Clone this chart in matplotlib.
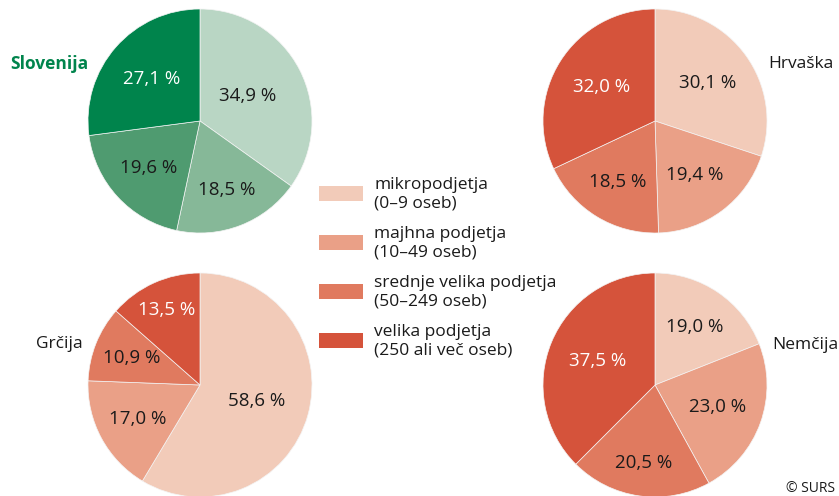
import matplotlib
matplotlib.use('Agg')
import numpy as np
import matplotlib.pyplot as plt
from matplotlib.patches import Rectangle

plt.rcParams['font.family'] = ['Open Sans', 'DejaVu Sans']

# share of enterprises by size class, clockwise from 12 o'clock
size_classes = ['mikropodjetja\n(0–9 oseb)',
                'majhna podjetja\n(10–49 oseb)',
                'srednje velika podjetja\n(50–249 oseb)',
                'velika podjetja\n(250 ali več oseb)']
countries = ['Slovenija', 'Hrvaška', 'Grčija', 'Nemčija']
slovenija = [34.9, 18.5, 19.6, 27.1]
hrvaska = [30.1, 19.4, 18.5, 32.0]
grcija = [58.6, 17.0, 10.9, 13.5]
nemcija = [19.0, 23.0, 20.5, 37.5]

GREENS = ['#b9d6c4', '#86b898', '#4f9b70', '#00844c']
REDS = ['#f2cbb9', '#eaa087', '#e07a5f', '#d5533b']

W, H = 839, 496
fig = plt.figure(figsize=(W / 100, H / 100), dpi=100)
ax = fig.add_axes([0, 0, 1, 1])

R = 112
pies = [
    (slovenija, GREENS, (200, 121), [0.48, 0.66, 0.62, 0.57]),
    (hrvaska, REDS, (655, 121), [0.58, 0.60, 0.64, 0.56]),
    (grcija, REDS, (200, 385), [0.52, 0.63, 0.66, 0.73]),
    (nemcija, REDS, (655, 385), [0.63, 0.59, 0.70, 0.55]),
]

for values, colors, center, dists in pies:
    # y axis is inverted, so counterclock=True draws clockwise on screen
    wedges, _ = ax.pie(values, colors=colors, center=center, radius=R,
                       startangle=-90, counterclock=True,
                       wedgeprops=dict(linewidth=0.5, edgecolor='#f4f4f4'),
                       frame=True)
    for i, (w, v) in enumerate(zip(wedges, values)):
        mid = np.deg2rad((w.theta1 + w.theta2) / 2)
        x = center[0] + dists[i] * R * np.cos(mid)
        y = center[1] + dists[i] * R * np.sin(mid)
        col = 'white' if i == 3 else '#1a1a1a'
        ax.text(x, y, '{:.1f} %'.format(v).replace('.', ','),
                ha='center', va='center', fontsize=13.5, color=col)

ax.set_xlim(0, W)
ax.set_ylim(H, 0)
ax.set_aspect('equal')
ax.axis('off')

# country names
ax.text(10, 64, countries[0], fontsize=12.5, fontweight='bold',
        color='#00844c', ha='left', va='center')
ax.text(768, 64, countries[1], fontsize=12.5, color='#1a1a1a',
        ha='left', va='center')
ax.text(36, 344, countries[2], fontsize=12.5, color='#1a1a1a',
        ha='left', va='center')
ax.text(772, 345, countries[3], fontsize=12.5, color='#1a1a1a',
        ha='left', va='center')

# legend
for i, (label, col) in enumerate(zip(size_classes, REDS)):
    yc = 193 + i * 49
    ax.add_patch(Rectangle((319, yc - 7.5), 44, 15, facecolor=col,
                           edgecolor='none'))
    ax.text(374, yc + 1, label, fontsize=12.5, color='#1a1a1a',
            ha='left', va='center', linespacing=1.2)

ax.text(835, 489, '© SURS', fontsize=10, color='#1a1a1a',
        ha='right', va='center')

fig.savefig('out.png', dpi=100)
